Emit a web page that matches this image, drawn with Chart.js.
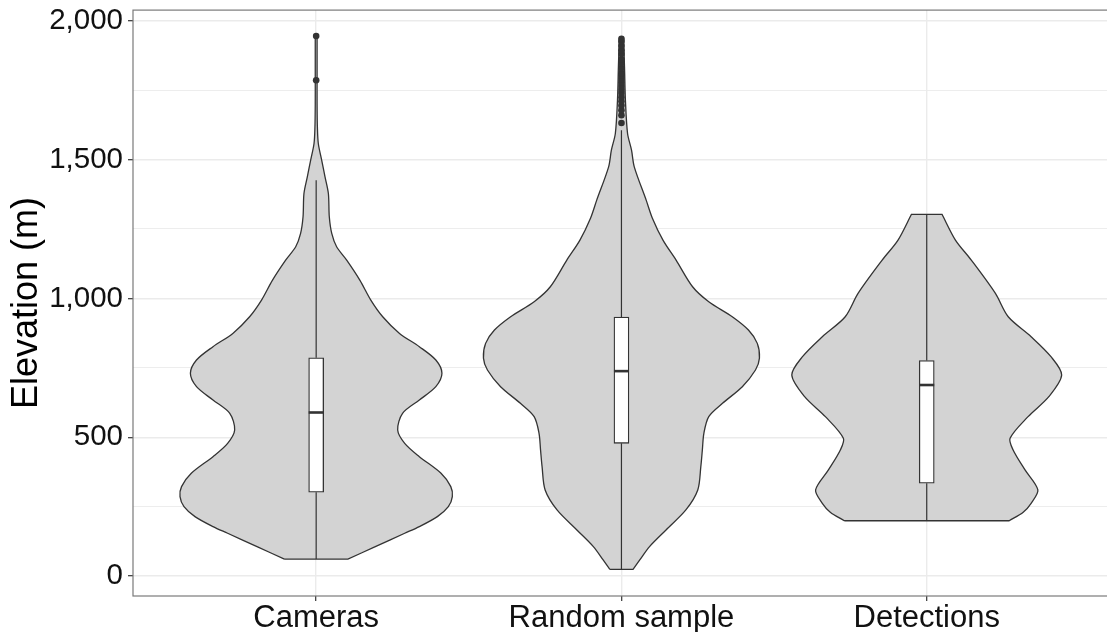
<!DOCTYPE html>
<html>
<head>
<meta charset="utf-8">
<title>Elevation by group</title>
<script src="https://cdn.jsdelivr.net/npm/chart.js@4.4.1/dist/chart.umd.min.js"></script>
<style>
  html, body { margin: 0; padding: 0; background: #ffffff; overflow: hidden; }
  #wrap { position: relative; width: 1120px; height: 632px; }
</style>
</head>
<body>
<div id="wrap"><canvas id="chart"></canvas></div>
<script>
// ---- Data -----------------------------------------------------------------
const categories = ['Cameras', 'Random sample', 'Detections'];

const yMajorTicks = [0, 500, 1000, 1500, 2000];
const yMinorTicks = [250, 750, 1250, 1750];

// Violin outlines: elevation (m) and density half-width (in category units)
const camerasElev = [61, 105, 154, 178, 214, 250, 286, 322, 370, 430, 478, 526, 586, 634, 682, 730, 778, 826, 874, 934, 994, 1066, 1138, 1186, 1234, 1294, 1378, 1438, 1498, 1558, 1618, 1700, 1800, 1945];
const camerasHalfWidth = [0.104, 0.192, 0.290, 0.338, 0.397, 0.433, 0.446, 0.441, 0.409, 0.338, 0.290, 0.267, 0.283, 0.338, 0.392, 0.412, 0.392, 0.338, 0.273, 0.218, 0.179, 0.143, 0.100, 0.067, 0.051, 0.043, 0.040, 0.029, 0.018, 0.007, 0.004, 0.003, 0.003, 0.003];

const randomElev = [24, 58, 106, 166, 238, 310, 394, 454, 514, 574, 622, 682, 742, 785, 838, 886, 934, 988, 1042, 1138, 1210, 1290, 1354, 1474, 1534, 1594, 1714, 1834, 1935];
const randomHalfWidth = [0.038, 0.060, 0.092, 0.146, 0.211, 0.250, 0.260, 0.265, 0.270, 0.286, 0.331, 0.396, 0.439, 0.452, 0.445, 0.416, 0.363, 0.286, 0.233, 0.179, 0.136, 0.101, 0.081, 0.042, 0.033, 0.020, 0.013, 0.010, 0.007];

const detectionsElev = [199, 230, 262, 310, 382, 454, 496, 574, 646, 724, 790, 862, 934, 1018, 1138, 1210, 1303];
const detectionsHalfWidth = [0.270, 0.316, 0.342, 0.364, 0.322, 0.283, 0.273, 0.332, 0.400, 0.442, 0.407, 0.342, 0.267, 0.225, 0.146, 0.094, 0.050];

// Box-plot summaries (m), one entry per category
const whiskerLow  = [61, 24, 199];
const quartile1   = [302, 478, 334];
const medians     = [589, 738, 688];
const quartile3   = [786, 933, 776];
const whiskerHigh = [1426, 1606, 1303];

// Outlying observations (m)
const camerasOutliers = [1786, 1945];
const randomOutliers = [1632, 1660, 1678, 1695, 1710, 1725, 1740, 1752, 1765, 1778, 1790, 1802, 1811, 1829, 1847, 1860, 1880, 1894, 1910, 1925, 1935];
const detectionsOutliers = [];

// ---- Helpers --------------------------------------------------------------
const FONT = "'Liberation Sans', Arial, Helvetica, sans-serif";
const INK = '#333333';
const TEXT = '#111111';
const GRID = '#ebebeb';

// Closed outline: left edge upwards, across the top, right edge downwards,
// across the bottom. Corner points are repeated so the spline keeps them sharp.
function violinPath(center, elev, half) {
  const n = elev.length;
  const left = elev.map((e, i) => ({ x: center - half[i], y: e }));
  const right = elev.map((e, i) => ({ x: center + half[i], y: e })).reverse();
  return [
    ...left,
    { ...left[n - 1] }, { ...right[0] },
    ...right,
    { ...right[n - 1] }, { ...left[0] }
  ];
}

const profiles = [
  { elev: camerasElev, half: camerasHalfWidth },
  { elev: randomElev, half: randomHalfWidth },
  { elev: detectionsElev, half: detectionsHalfWidth }
];
const outlierSets = [camerasOutliers, randomOutliers, detectionsOutliers];

const datasets = [];
profiles.forEach((p, i) => {
  datasets.push({
    type: 'line',
    data: violinPath(i + 1, p.elev, p.half),
    fill: 'shape',
    backgroundColor: '#d3d3d3',
    borderColor: INK,
    borderWidth: 1.3,
    tension: 0.3,
    pointRadius: 0,
    order: 5
  });
  datasets.push({
    type: 'line',
    data: [
      { x: i + 1, y: whiskerLow[i] }, { x: i + 1, y: quartile1[i] },
      { x: i + 1, y: null },
      { x: i + 1, y: quartile3[i] }, { x: i + 1, y: whiskerHigh[i] }
    ],
    borderColor: INK,
    borderWidth: 1.2,
    pointRadius: 0,
    fill: false,
    spanGaps: false,
    order: 4
  });
});

datasets.push({
  type: 'bar',
  data: categories.map((c, i) => ({ x: i + 1, y: [quartile1[i], quartile3[i]] })),
  backgroundColor: '#ffffff',
  borderColor: INK,
  borderWidth: 1.3,
  borderSkipped: false,
  barThickness: 15,
  order: 3
});

datasets.push({
  type: 'scatter',
  data: medians.map((m, i) => ({ x: i + 1, y: m })),
  pointStyle: 'line',
  pointRadius: 7.5,
  borderWidth: 2.6,
  borderColor: INK,
  order: 2
});

datasets.push({
  type: 'scatter',
  data: outlierSets.flatMap((set, i) => set.map(v => ({ x: i + 1, y: v }))),
  pointRadius: 3.3,
  backgroundColor: INK,
  borderColor: INK,
  borderWidth: 0,
  order: 1
});

// Full panel frame drawn over the data
const panelBorder = {
  id: 'panelBorder',
  afterDatasetsDraw(chart) {
    const { ctx, chartArea: a } = chart;
    ctx.save();
    ctx.strokeStyle = '#7a7a7a';
    ctx.lineWidth = 1.2;
    ctx.strokeRect(a.left, a.top, a.right - a.left, a.bottom - a.top);
    ctx.restore();
  }
};

const fmt = new Intl.NumberFormat('en-US');
const isMajor = v => yMajorTicks.includes(v);

new Chart(document.getElementById('chart'), {
  type: 'scatter',
  data: { datasets },
  plugins: [panelBorder],
  options: {
    responsive: true,
    maintainAspectRatio: false,
    animation: false,
    events: [],
    layout: { padding: { top: 10, right: 3.5, bottom: 0, left: 0 } },
    plugins: { legend: { display: false }, tooltip: { enabled: false } },
    scales: {
      x: {
        type: 'linear',
        min: 0.4,
        max: 3.6,
        offset: false,
        afterBuildTicks: s => { s.ticks = categories.map((c, i) => ({ value: i + 1 })); },
        afterFit: s => { s.height = 36; s.paddingLeft = 0; s.paddingRight = 0; },
        ticks: {
          autoSkip: false,
          maxRotation: 0,
          padding: 1.5,
          color: TEXT,
          font: { family: FONT, size: 31, lineHeight: 1 },
          callback: v => categories[v - 1] ?? ''
        },
        grid: { offset: false, color: GRID, lineWidth: 1.4, tickColor: INK, tickLength: 5, tickWidth: 1.2 },
        border: { display: false }
      },
      y: {
        type: 'linear',
        min: -72,
        max: 2038.5,
        afterBuildTicks: s => {
          s.ticks = [...yMajorTicks, ...yMinorTicks].sort((a, b) => a - b).map(v => ({ value: v }));
        },
        afterFit: s => { s.width = 133; s.paddingTop = 0; s.paddingBottom = 0; },
        ticks: {
          autoSkip: false,
          padding: 5,
          color: TEXT,
          font: { family: FONT, size: 29.5 },
          callback: v => isMajor(v) ? fmt.format(v) : ''
        },
        grid: {
          offset: false,
          color: GRID,
          lineWidth: c => (c.tick && isMajor(c.tick.value)) ? 1.4 : 0.9,
          tickColor: c => (c.tick && isMajor(c.tick.value)) ? INK : 'rgba(0,0,0,0)',
          tickLength: 5,
          tickWidth: 1.2
        },
        border: { display: false },
        title: {
          display: true,
          text: 'Elevation (m)',
          color: '#000000',
          font: { family: FONT, size: 36 },
          padding: { top: 5, bottom: 0 }
        }
      }
    }
  }
});
</script>
</body>
</html>
